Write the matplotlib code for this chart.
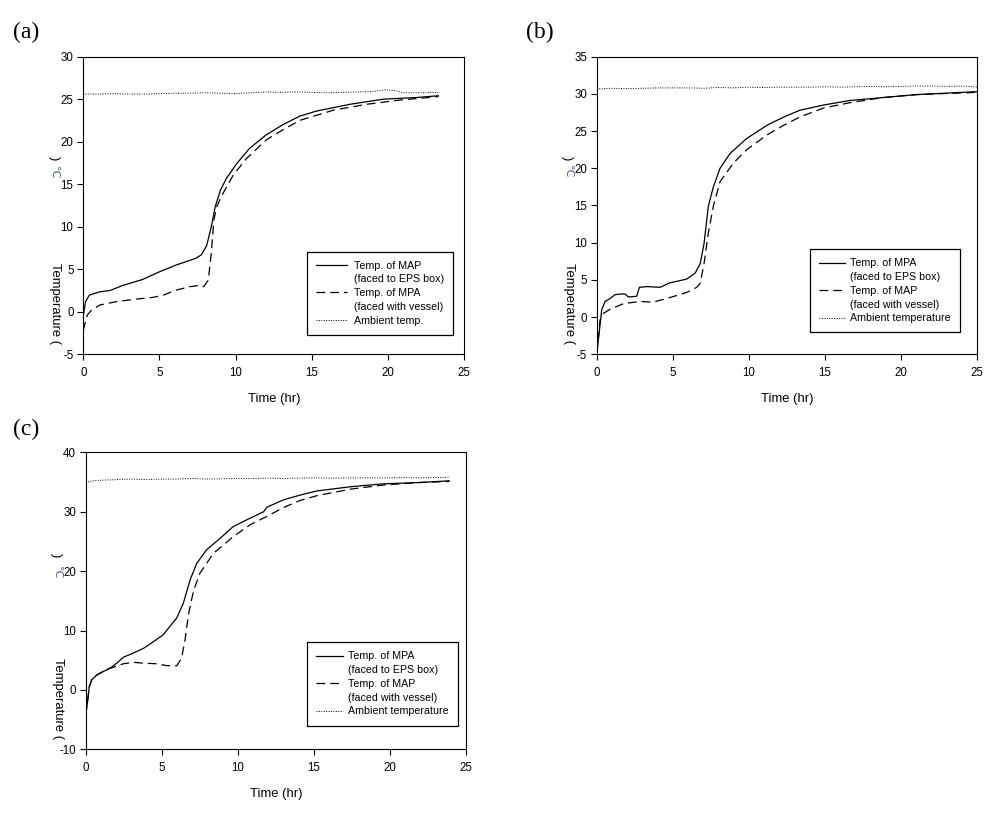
import matplotlib
matplotlib.use("Agg")
import matplotlib.pyplot as plt
from matplotlib.lines import Line2D

plt.rcParams['font.family'] = ['Liberation Sans', 'DejaVu Sans']
plt.rcParams['axes.unicode_minus'] = False

# ---------------------------------------------------------------------------
# Data
# ---------------------------------------------------------------------------
# (a)
a_t_solid = [0, 0.15, 0.4, 1.1, 1.75, 2.6, 3.9, 5.0, 6.1, 7.4, 7.75, 8.1, 8.4, 8.65,
             9.0, 9.4, 10.06, 10.9, 12.0, 13.1, 14.2, 15.3, 16.4, 17.5, 18.6, 19.7,
             20.8, 21.9, 23.3]
a_solid = [-0.5, 1.2, 1.96, 2.35, 2.5, 3.1, 3.8, 4.7, 5.5, 6.3, 6.7, 7.8, 10.0, 12.3,
           14.3, 15.7, 17.4, 19.2, 20.8, 22.0, 23.0, 23.6, 24.0, 24.4, 24.7, 25.0,
           25.1, 25.2, 25.4]
a_t_dash = [0, 0.26, 0.55, 1.1, 2.2, 3.3, 4.6, 5.25, 6.1, 7.0, 7.65, 7.9, 8.2, 8.4,
            8.57, 8.75, 9.1, 9.85, 10.7, 12.0, 13.1, 14.2, 15.3, 16.4, 18.6, 20.8, 23.3]
a_dash = [-2.2, -0.4, 0.2, 0.8, 1.2, 1.45, 1.7, 1.95, 2.55, 2.95, 3.1, 2.95, 3.7, 6.9,
          10.8, 12.3, 13.7, 16.1, 18.0, 20.2, 21.4, 22.5, 23.1, 23.7, 24.4, 24.9, 25.3]
a_t_amb = [0, 1, 2, 3, 4, 5, 6, 7, 8, 9, 10, 11, 12, 13, 14, 15, 16, 17, 18, 19,
           19.8, 20.5, 21, 22, 23.3]
a_amb = [25.6, 25.6, 25.65, 25.6, 25.6, 25.65, 25.7, 25.7, 25.75, 25.7, 25.65, 25.75,
         25.85, 25.8, 25.85, 25.8, 25.75, 25.8, 25.85, 25.9, 26.1, 26.0, 25.75, 25.75, 25.8]

# (b)
b_t_solid = [0, 0.18, 0.33, 0.55, 0.88, 1.2, 1.53, 1.86, 2.08, 2.63, 2.8, 3.3, 4.16,
             4.8, 5.9, 6.46, 6.8, 7.05, 7.33, 7.66, 8.1, 8.76, 9.85, 11.2, 12.3, 13.35,
             14.9, 16.6, 18.8, 21.0, 25.0]
b_solid = [-5.0, -1.7, 1.0, 2.1, 2.5, 3.0, 3.1, 3.1, 2.7, 2.8, 4.0, 4.1, 4.0, 4.6, 5.1,
           5.9, 7.2, 9.9, 14.9, 17.5, 20.0, 22.0, 24.0, 25.8, 26.9, 27.8, 28.5, 29.1,
           29.5, 29.9, 30.3]
b_t_dash = [0, 0.22, 0.44, 0.88, 1.75, 2.85, 3.7, 4.6, 5.9, 6.57, 6.8, 7.05, 7.33, 7.66,
            8.1, 8.98, 9.85, 11.2, 12.3, 13.35, 14.9, 16.6, 18.8, 21.0, 25.0]
b_dash = [-5.0, -0.4, 0.5, 1.05, 1.8, 2.1, 2.0, 2.5, 3.3, 4.0, 4.55, 7.2, 11.3, 14.9,
          18.2, 20.7, 22.5, 24.5, 25.8, 26.9, 28.1, 28.8, 29.5, 29.9, 30.2]
b_t_amb = list(range(26))
b_amb = [30.65, 30.75, 30.7, 30.75, 30.8, 30.8, 30.8, 30.75, 30.85, 30.8, 30.9, 30.85,
         30.9, 30.9, 30.9, 30.95, 30.9, 30.95, 31.0, 30.95, 31.0, 31.05, 31.05, 31.0,
         31.05, 30.9]

# (c)
c_t_solid = [0, 0.11, 0.24, 0.4, 0.72, 1.16, 1.6, 2.04, 2.48, 3.13, 3.8, 4.45, 5.1,
             5.98, 6.42, 6.86, 7.3, 7.95, 8.83, 9.7, 10.8, 11.7, 11.9, 13.0, 14.1, 15.2,
             17.4, 19.6, 21.8, 23.9]
c_solid = [-4.2, -2.2, 0.56, 1.7, 2.5, 3.1, 3.65, 4.5, 5.5, 6.2, 7.0, 8.1, 9.3, 12.1,
           14.6, 18.5, 21.3, 23.6, 25.5, 27.5, 28.9, 30.0, 30.75, 32.0, 32.8, 33.5,
           34.2, 34.7, 34.9, 35.2]
c_t_dash = [0, 0.11, 0.24, 0.4, 0.72, 1.4, 1.82, 2.48, 3.13, 3.8, 4.67, 5.3, 5.98, 6.3,
            6.53, 6.75, 7.08, 7.5, 8.4, 9.7, 10.8, 11.9, 13.0, 14.1, 15.2, 17.4, 19.6,
            21.8, 23.9]
c_dash = [-4.2, -2.2, 0.56, 1.7, 2.5, 3.5, 3.8, 4.4, 4.65, 4.5, 4.4, 4.1, 4.05, 5.3,
          8.4, 12.6, 16.6, 19.6, 23.0, 25.8, 27.8, 29.2, 30.7, 31.9, 32.7, 33.8, 34.5,
          34.9, 35.1]
c_t_amb = [0, 0.5, 1, 2, 3, 4, 5, 6, 7, 8, 9, 10, 11, 12, 13, 14, 15, 16, 17, 18, 19,
           20, 21, 22, 23.9]
c_amb = [34.9, 35.2, 35.3, 35.4, 35.5, 35.4, 35.5, 35.5, 35.6, 35.5, 35.55, 35.6, 35.6,
         35.65, 35.6, 35.65, 35.7, 35.65, 35.7, 35.7, 35.7, 35.7, 35.75, 35.7, 35.8]

# ---------------------------------------------------------------------------
# Panel definitions
# ---------------------------------------------------------------------------
panels = [
    dict(tag="(a)", rect=[0.0826, 0.5653, 0.378, 0.3652], ylim=(-5, 30), yticks=range(-5, 31, 5),
         solid=(a_t_solid, a_solid), dash=(a_t_dash, a_dash), amb=(a_t_amb, a_amb),
         names=("Temp. of MAP", "(faced to EPS box)", "Temp. of MPA", "(faced with vessel)",
                "Ambient temp."),
         leg=(0.586, 0.345), hl=2.9, htp=0.7, tag_xy=(0.013, 0.960), yl=(0.171, 0.61, 0.66)),
    dict(tag="(b)", rect=[0.592, 0.5653, 0.3776, 0.3652], ylim=(-5, 35), yticks=range(-5, 36, 5),
         solid=(b_t_solid, b_solid), dash=(b_t_dash, b_dash), amb=(b_t_amb, b_amb),
         names=("Temp. of MPA", "(faced to EPS box)", "Temp. of MAP", "(faced with vessel)",
                "Ambient temperature"),
         leg=(0.559, 0.353), hl=2.5, htp=0.45, tag_xy=(0.522, 0.960), yl=(0.171, 0.615, 0.66)),
    dict(tag="(c)", rect=[0.085, 0.0806, 0.3773, 0.3644], ylim=(-10, 40), yticks=range(-10, 41, 10),
         solid=(c_t_solid, c_solid), dash=(c_t_dash, c_dash), amb=(c_t_amb, c_amb),
         names=("Temp. of MPA", "(faced to EPS box)", "Temp. of MAP", "(faced with vessel)",
                "Ambient temperature"),
         leg=(0.583, 0.360), hl=2.5, htp=0.45, tag_xy=(0.013, 0.473), yl=(0.171, 0.595, 0.655)),
]

fig = plt.figure(figsize=(10.08, 8.15), dpi=100)

for p in panels:
    ax = fig.add_axes(p["rect"])
    ax.plot(*p["solid"], color="black", lw=0.9, ls="-")
    ax.plot(*p["dash"], color="black", lw=0.9, ls=(0, (7, 4)))
    ax.plot(*p["amb"], color="black", lw=0.7, ls=(0, (1, 1.5)))

    ax.set_xlim(0, 25)
    ax.set_ylim(*p["ylim"])
    ax.set_xticks(range(0, 26, 5))
    ax.set_yticks(list(p["yticks"]))
    ax.tick_params(direction="out", length=4, width=0.8, labelsize=8.3)
    ax.tick_params(axis="x", pad=5)
    ax.tick_params(axis="y", pad=3)
    for s in ax.spines.values():
        s.set_linewidth(0.8)
    ax.set_xlabel("Time (hr)", fontsize=9.4, labelpad=10)

    # broken y label as in the source figure
    ylab_y, deg_y, par_y = p["yl"]
    ax.text(-0.074, ylab_y, "Temperature (", rotation=270, fontsize=9.4,
            ha="center", va="center", transform=ax.transAxes)
    ax.text(-0.076, deg_y, "\u2103", rotation=270, fontsize=8, color="#55607a",
            ha="center", va="center", transform=ax.transAxes)
    ax.text(-0.078, par_y, ")", rotation=270, fontsize=9.4,
            ha="center", va="center", transform=ax.transAxes)

    blank = Line2D([], [], color="none")
    handles = [Line2D([], [], color="black", lw=0.9, ls="-"), blank,
               Line2D([], [], color="black", lw=0.9, ls=(0, (7, 4))), blank,
               Line2D([], [], color="black", lw=0.7, ls=(0, (1, 1.5)))]
    leg = ax.legend(handles, p["names"], loc="upper left", bbox_to_anchor=p["leg"],
                    borderaxespad=0, fontsize=7.7, frameon=True, fancybox=False,
                    edgecolor="black", framealpha=1, labelspacing=0.35,
                    handlelength=p["hl"], handletextpad=p["htp"], borderpad=0.85)
    leg.get_frame().set_linewidth(0.9)

    fig.text(p["tag_xy"][0], p["tag_xy"][1], p["tag"], fontsize=17,
             family="Liberation Serif", ha="left", va="center")

fig.savefig("out.png", dpi=100)
